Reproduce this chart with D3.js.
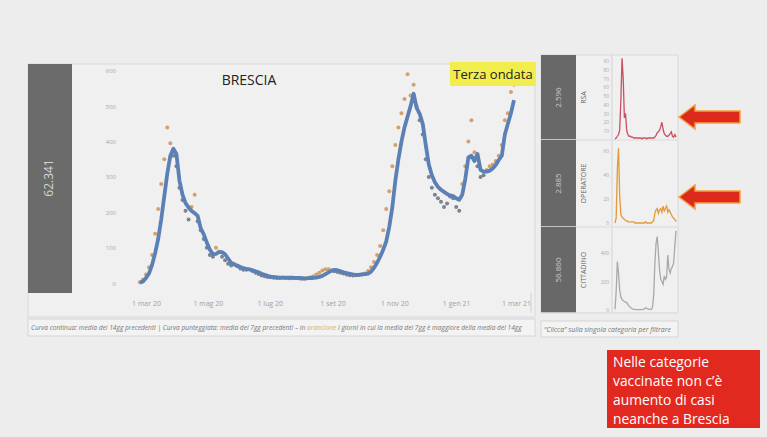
<!DOCTYPE html>
<html>
<head>
<meta charset="utf-8">
<script src="https://cdn.jsdelivr.net/npm/d3@7"></script>
<style>
  body { margin: 0; background: #ededed; }
  svg { display: block; font-family: "Open Sans", sans-serif; }
</style>
</head>
<body>
<svg id="chart" width="767" height="437"></svg>
<script>
// main chart, every 3 days starting 24 feb 2020
const mainStart = new Date(2020, 1, 24);
const mainStep = 3;
// media 14gg (curva continua)
const avg14 = [
  2, 5, 15, 28, 52, 85, 125, 180, 245, 310,
  360, 380, 365, 290, 250, 226, 214, 204, 198, 190,
  155, 138, 115, 95, 82, 83, 88, 88, 82, 70,
  58, 53, 50, 46, 43, 41, 39, 37, 34, 31,
  27, 24, 21, 19, 18, 17, 16, 16, 16, 16,
  16, 15, 15, 15, 14, 14, 15, 15, 16, 18,
  21, 26, 31, 35, 38, 37, 34, 31, 29, 27,
  25, 24, 24, 25, 26, 27, 33, 44, 58, 75,
  95, 118, 160, 215, 290, 350, 400, 440, 470, 500,
  535, 495, 478, 450, 390, 335, 305, 285, 272, 264,
  258, 252, 248, 246, 240, 236, 250, 295, 355, 360,
  345, 365, 320, 315, 315, 318, 324, 334, 348, 360,
  420, 450, 480, 517
];
// media 7gg (curva punteggiata)
const avg7 = [
  3, 10, 25, 45, 80, 140, 210, 280, 350, 440,
  395, 360, 330, 270, 235, 205, 180, 215, 250, 175,
  150, 125, 100, 80, 75, 100, 90, 75, 65, 55,
  50, 55, 48, 42, 38, 38, 40, 35, 30, 26,
  22, 20, 18, 17, 16, 15, 15, 16, 15, 14,
  14, 15, 14, 13, 13, 15, 17, 20, 25, 30,
  36, 40, 40, 37, 34, 32, 30, 28, 25, 23,
  22, 23, 24, 25, 28, 35, 45, 60, 80, 105,
  150, 210, 260, 330, 390, 440, 480, 520, 590, 530,
  560, 500, 460, 420, 350, 300, 270, 250, 240, 230,
  215, 225, 245, 240, 215, 205, 280, 330, 400, 460,
  370, 330, 300, 305, 320, 330, 335, 345, 360, 390,
  460, 480, 540, 560
];
const yTicks = [0, 100, 200, 300, 400, 500, 600];
const xTickDates = [new Date(2020, 2, 1), new Date(2020, 4, 1), new Date(2020, 6, 1), new Date(2020, 8, 1),
  new Date(2020, 10, 1), new Date(2021, 0, 1), new Date(2021, 2, 1)];
const xTickLabels = ["1 mar 20", "1 mag 20", "1 lug 20", "1 set 20", "1 nov 20", "1 gen 21", "1 mar 21"];

// small charts, weekly from 24 feb 2020
const miniStep = 7;
const categories = ["RSA", "OPERATORE", "CITTADINO"];
const catTotals = ["2.596", "2.885", "56.860"];
const rsa = [
  1, 2, 4, 6, 11, 45, 93, 70, 25, 30,
  10, 6, 4, 4, 3, 3, 2, 2, 2, 2,
  2, 2, 2, 1, 2, 2, 2, 1, 2, 2,
  2, 2, 2, 2, 3, 5, 8, 9, 11, 15,
  20, 12, 7, 5, 4, 4, 5, 7, 9, 4,
  3, 6, 3
];
const operatore = [
  0, 4, 45, 62, 22, 7, 5, 4, 3, 2,
  2, 1, 1, 1, 1, 1, 1, 0, 0, 0,
  0, 0, 0, 0, 0, 0, 1, 0, 0, 0,
  0, 0, 1, 2, 8, 11, 12, 8, 11, 12,
  9, 14, 10, 12, 14, 9, 11, 9, 7, 5,
  4, 3, 1
];
const cittadino = [
  5, 130, 340, 260, 140, 90, 75, 65, 60, 55,
  52, 38, 28, 20, 12, 8, 5, 4, 3, 3,
  2, 2, 3, 3, 4, 8, 16, 12, 7, 5,
  5, 5, 20, 110, 330, 470, 515, 400, 280, 215,
  200, 180, 240, 215, 230, 385, 290, 260, 290, 305,
  330, 450, 555
];
const miniTicks = [[10, 20, 30, 40, 50, 60, 70, 80, 90], [0, 20, 40, 60], [0, 200, 400]];
const totalAll = "62.341";

const svg = d3.select('#chart');

// ---- main panel frame
svg.append("rect").attr("x", 28).attr("y", 64).attr("width", 507).attr("height", 253)
  .attr("fill", "#f0f0f0").attr("stroke", "#d9d9d9");
svg.append("rect").attr("x", 28).attr("y", 64).attr("width", 44).attr("height", 229).attr("fill", "#6b6b6b");
svg.append("text").attr("transform", "translate(53,178) rotate(-90)")
  .attr("text-anchor", "middle").attr("font-size", 12).attr("fill", "#d4d4d4").text(totalAll);
svg.append("line").attr("x1", 531).attr("x2", 531).attr("y1", 293).attr("y2", 313).attr("stroke", "#d0d0d0");

const x = d3.scaleTime()
  .domain([new Date(2020, 2, 1), new Date(2021, 2, 1)])
  .range([146, 516]);
const y = d3.scaleLinear()
  .domain([0, 600])
  .range([283.3, 70.7]);

const yAxis = svg.append("g").attr("transform", "translate(118,0)")
  .call(d3.axisLeft(y).tickValues(yTicks).tickSize(0).tickPadding(2));
yAxis.select(".domain").remove();
yAxis.selectAll("text").attr("font-size", 6).attr("fill", "#a8a8a8").attr("font-family", "Open Sans");

const xAxis = svg.append("g").attr("transform", "translate(0,298)")
  .call(d3.axisBottom(x).tickValues(xTickDates).tickSize(0)
    .tickFormat((d, i) => xTickLabels[i]));
xAxis.select(".domain").remove();
xAxis.selectAll("text").attr("font-size", 7).attr("fill", "#a0a0a0").attr("font-family", "Open Sans");

const mainDates = avg7.map((d, i) => d3.timeDay.offset(mainStart, i * mainStep));

svg.append("g")
  .selectAll("circle")
  .data(avg7)
  .join("circle")
    .attr("cx", (d, i) => x(mainDates[i]))
    .attr("cy", d => y(d))
    .attr("r", 2)
    .attr("fill", (d, i) => d > avg14[i] ? "#d3a06e" : "#7b8490");

svg.append("path")
  .datum(avg14)
  .attr("fill", "none")
  .attr("stroke", "#5b80b6")
  .attr("stroke-width", 3.8)
  .attr("stroke-linejoin", "round")
  .attr("d", d3.line().x((d, i) => x(mainDates[i])).y(d => y(d)));

svg.append("text").attr("x", 249).attr("y", 85).attr("text-anchor", "middle")
  .attr("font-size", 14).attr("fill", "#222").text("BRESCIA");

svg.append("rect").attr("x", 450).attr("y", 62).attr("width", 86).attr("height", 24).attr("fill", "#f1ed4d");
svg.append("text").attr("x", 493).attr("y", 79).attr("text-anchor", "middle")
  .attr("font-size", 13).attr("fill", "#222").text("Terza ondata");

// caption
svg.append("rect").attr("x", 28).attr("y", 319).attr("width", 507).attr("height", 17)
  .attr("fill", "#f3f3f3").attr("stroke", "#d6d6d6");
const cap = svg.append("text").attr("x", 31).attr("y", 330).attr("font-size", 6.6)
  .attr("font-style", "italic").attr("fill", "#777");
cap.append("tspan").text("Curva continua: media dei 14gg precedenti | Curva punteggiata: media dei 7gg precedenti – in ");
cap.append("tspan").attr("fill", "#d9b43a").text("arancione");
cap.append("tspan").text(" i giorni in cui la media dei 7gg è maggiore della media dei 14gg");

// ---- right panel, one row per category
const rows = [[55, 140], [140, 227], [227, 313]];
const miniSeries = [rsa, operatore, cittadino];
const miniColors = ["#c9505f", "#e29a3c", "#a9a9a9"];
const miniDomains = [[0, 90], [0, 60], [0, 400]];
const miniRanges = [[139.75, 61], [223, 150.7], [310, 253]];

svg.append("rect").attr("x", 541).attr("y", 55).attr("width", 137).attr("height", 258)
  .attr("fill", "#f0f0f0").attr("stroke", "#d9d9d9");
svg.append("line").attr("x1", 612).attr("x2", 612).attr("y1", 55).attr("y2", 313).attr("stroke", "#d3d3d3");

const mx = d3.scaleTime()
  .domain([mainStart, d3.timeDay.offset(mainStart, (rsa.length - 1) * miniStep)])
  .range([615, 676]);

categories.forEach((cat, r) => {
  const [y0, y1] = rows[r];
  svg.append("rect").attr("x", 541).attr("y", y0).attr("width", 35).attr("height", y1 - y0)
    .attr("fill", "#686868");
  svg.append("line").attr("x1", 541).attr("x2", 678).attr("y1", y1).attr("y2", y1)
    .attr("stroke", "#e2e2e2").attr("stroke-width", 1.5);
  const cy = (y0 + y1) / 2;
  svg.append("text").attr("transform", `translate(561,${cy}) rotate(-90)`)
    .attr("text-anchor", "middle").attr("font-size", 8).attr("fill", "#c8c8c8").text(catTotals[r]);
  svg.append("text").attr("transform", `translate(586,${cy}) rotate(-90)`)
    .attr("text-anchor", "middle").attr("font-size", 7).attr("fill", "#666").text(cat);

  const my = d3.scaleLinear().domain(miniDomains[r]).range(miniRanges[r]);
  const ax = svg.append("g").attr("transform", "translate(609,0)")
    .call(d3.axisLeft(my).tickValues(miniTicks[r]).tickSize(0).tickPadding(0));
  ax.select(".domain").remove();
  ax.selectAll("text").attr("font-size", 4.8).attr("fill", "#aaa").attr("font-family", "Open Sans");

  svg.append("path")
    .datum(miniSeries[r])
    .attr("fill", "none")
    .attr("stroke", miniColors[r])
    .attr("stroke-width", 1.3)
    .attr("d", d3.line()
      .x((d, i) => mx(d3.timeDay.offset(mainStart, i * miniStep)))
      .y(d => my(d)));
});

svg.append("rect").attr("x", 541).attr("y", 321).attr("width", 137).attr("height", 16)
  .attr("fill", "#f3f3f3").attr("stroke", "#d6d6d6");
svg.append("text").attr("x", 544).attr("y", 331.5).attr("font-size", 6.9)
  .attr("font-style", "italic").attr("fill", "#777").text("“Clicca” sulla singola categoria per filtrare");

// arrows
[117, 197].forEach(cy => {
  const pts = [[679, cy], [695, cy - 12], [695, cy - 6], [740, cy - 6], [740, cy + 6], [695, cy + 6], [695, cy + 12]];
  svg.append("polygon").attr("points", pts.map(p => p.join(",")).join(" "))
    .attr("fill", "#dd2a1c").attr("stroke", "#f3a33a").attr("stroke-width", 1.5);
});

// red note box
svg.append("rect").attr("x", 607).attr("y", 350).attr("width", 153).attr("height", 78).attr("fill", "#e2291f");
const note = ["Nelle categorie", "vaccinate non c’è", "aumento di casi", "neanche a Brescia"];
svg.append("g").selectAll("text").data(note).join("text")
  .attr("x", 613).attr("y", (d, i) => 367 + i * 19)
  .attr("font-size", 13.8).attr("fill", "#fff").text(d => d);
</script>
</body>
</html>
